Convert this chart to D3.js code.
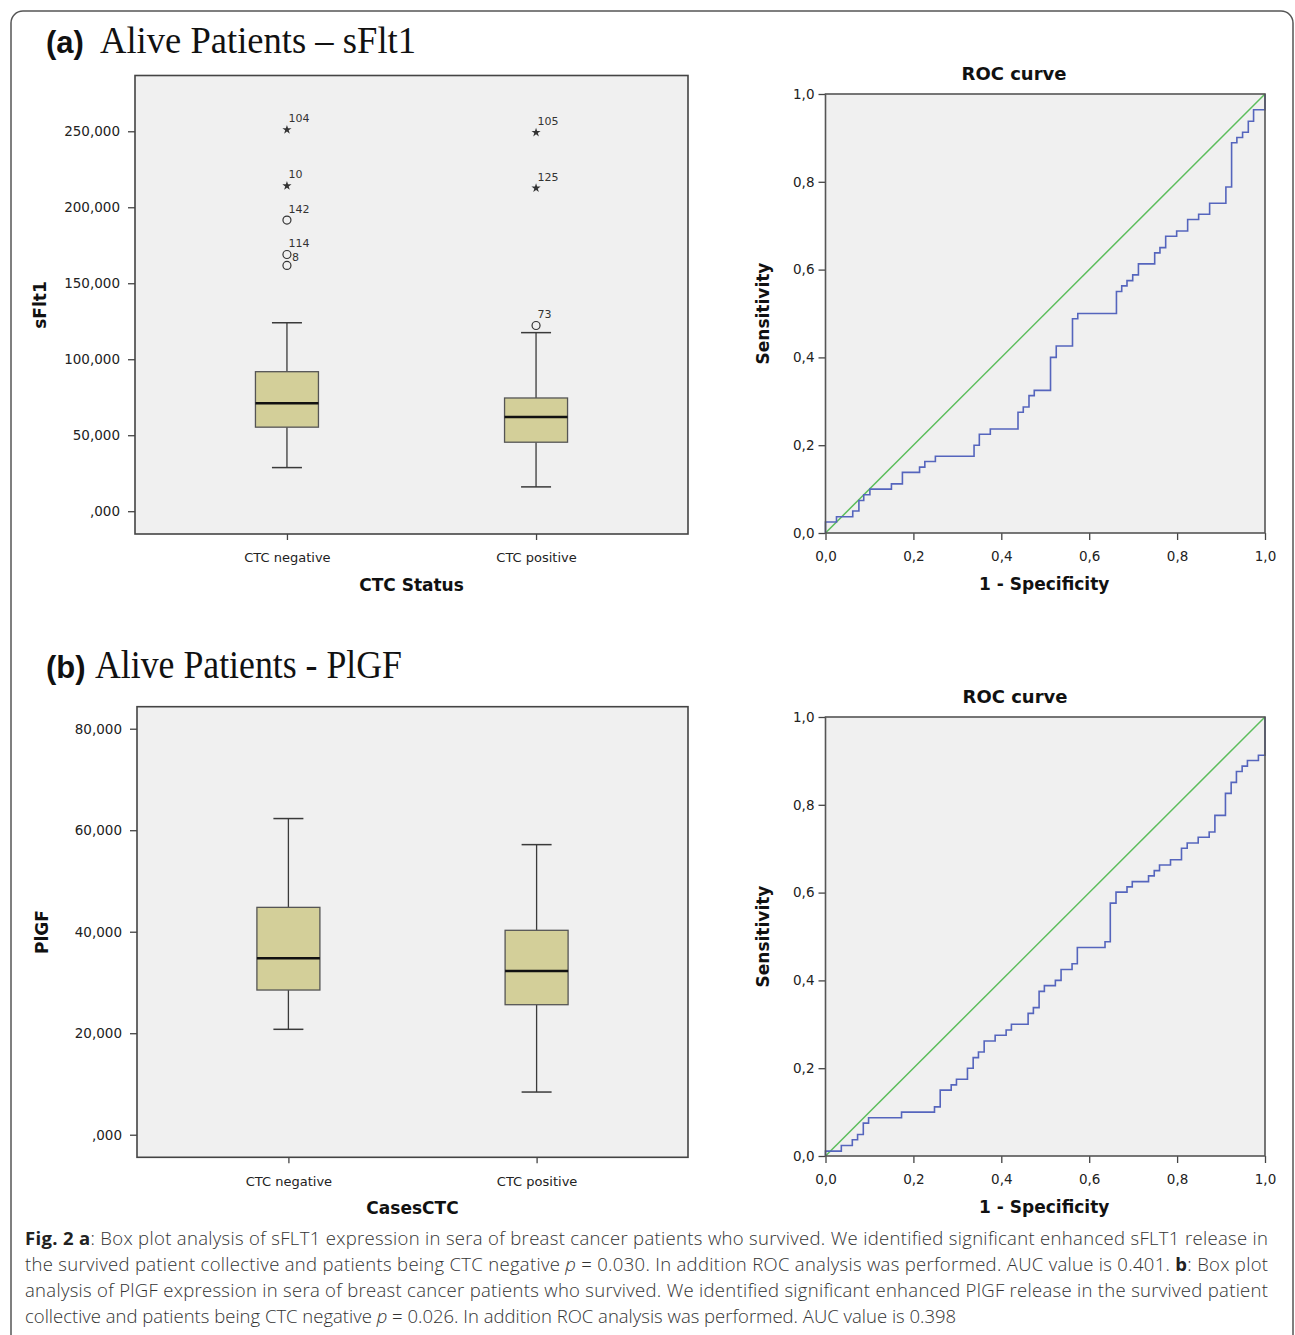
<!DOCTYPE html>
<html><head><meta charset="utf-8">
<script src="https://cdn.jsdelivr.net/npm/d3@7"></script>
<style>body{margin:0;background:#fff} svg{display:block}</style>
</head><body><svg id="chart" width="1295" height="1335"></svg>
<script>
// ---------------- DATA ----------------
const categories = ["CTC negative", "CTC positive"];

// (a) sFlt1 box plot (five-number summaries per category)
const sflt1Min    = [28700, 16000];
const sflt1Q1     = [55300, 45400];
const sflt1Median = [71000, 62000];
const sflt1Q3     = [91800, 74500];
const sflt1Max    = [124000, 117500];
const sflt1OutlierCategory = ["CTC negative","CTC negative","CTC negative","CTC negative","CTC negative","CTC positive","CTC positive","CTC positive"];
const sflt1OutlierValue    = [251000, 214100, 191600, 168900, 161700, 249200, 212600, 122200];
const sflt1OutlierId       = ["104", "10", "142", "114", "8", "105", "125", "73"];
const sflt1OutlierType     = ["extreme","extreme","outlier","outlier","outlier","extreme","extreme","outlier"];
const sflt1Ticks      = [0, 50000, 100000, 150000, 200000, 250000];
const sflt1TickLabels = [",000", "50,000", "100,000", "150,000", "200,000", "250,000"];
const sflt1Domain     = [-15000, 286700];

// (b) PlGF box plot
const plgfMin    = [20770, 8410];
const plgfQ1     = [28510, 25620];
const plgfMedian = [34760, 32260];
const plgfQ3     = [44800, 40280];
const plgfMax    = [62300, 57160];
const plgfTicks      = [0, 20000, 40000, 60000, 80000];
const plgfTickLabels = [",000", "20,000", "40,000", "60,000", "80,000"];
const plgfDomain     = [-4450, 84340];

// ROC curves (1 - specificity, sensitivity) corner points
const rocAFpr = [0, 0, 0.025, 0.062, 0.076, 0.087, 0.101, 0.150, 0.175, 0.214, 0.226, 0.250, 0.338, 0.350, 0.375, 0.438, 0.450, 0.463, 0.475, 0.512, 0.525, 0.562, 0.574, 0.662, 0.674, 0.686, 0.699, 0.712, 0.749, 0.761, 0.774, 0.799, 0.824, 0.849, 0.874, 0.911, 0.924, 0.936, 0.949, 0.962, 0.974, 1.0];
const rocATpr = [0, 0.025, 0.037, 0.050, 0.074, 0.087, 0.100, 0.112, 0.138, 0.150, 0.163, 0.175, 0.200, 0.225, 0.237, 0.275, 0.287, 0.313, 0.325, 0.400, 0.426, 0.488, 0.500, 0.550, 0.563, 0.575, 0.588, 0.613, 0.638, 0.650, 0.676, 0.688, 0.714, 0.726, 0.751, 0.788, 0.889, 0.901, 0.913, 0.938, 0.964, 1.0];
const rocBFpr = [0, 0, 0.036, 0.061, 0.073, 0.086, 0.098, 0.173, 0.248, 0.261, 0.286, 0.298, 0.323, 0.336, 0.348, 0.361, 0.386, 0.411, 0.423, 0.461, 0.473, 0.486, 0.498, 0.523, 0.536, 0.561, 0.573, 0.636, 0.648, 0.661, 0.686, 0.698, 0.735, 0.748, 0.760, 0.785, 0.810, 0.823, 0.848, 0.873, 0.886, 0.910, 0.923, 0.935, 0.948, 0.960, 0.985, 1.0];
const rocBTpr = [0, 0.011, 0.024, 0.037, 0.049, 0.075, 0.087, 0.100, 0.112, 0.150, 0.162, 0.175, 0.200, 0.224, 0.237, 0.262, 0.275, 0.287, 0.300, 0.325, 0.338, 0.375, 0.388, 0.400, 0.425, 0.438, 0.475, 0.488, 0.576, 0.601, 0.613, 0.625, 0.638, 0.650, 0.663, 0.675, 0.701, 0.713, 0.726, 0.738, 0.776, 0.826, 0.851, 0.876, 0.888, 0.901, 0.913, 1.0];
const rocTicks      = [0, 0.2, 0.4, 0.6, 0.8, 1.0];
const rocTickLabels = ["0,0", "0,2", "0,4", "0,6", "0,8", "1,0"];

// Text
const titleA = ["(a)", "Alive Patients \u2013 sFlt1"];
const titleB = ["(b)", "Alive Patients - PlGF"];
const captionLines = [
  [["Fig. 2 a", "b"], [": Box plot analysis of sFLT1 expression in sera of breast cancer patients who survived. We identified significant enhanced sFLT1 release in", "n"]],
  [["the survived patient collective and patients being CTC negative ", "n"], ["p", "i"], [" = 0.030. In addition ROC analysis was performed. AUC value is 0.401. ", "n"], ["b", "b"], [": Box plot", "n"]],
  [["analysis of PlGF expression in sera of breast cancer patients who survived. We identified significant enhanced PlGF release in the survived patient", "n"]],
  [["collective and patients being CTC negative ", "n"], ["p", "i"], [" = 0.026. In addition ROC analysis was performed. AUC value is 0.398", "n"]]
];

// ---------------- DRAWING ----------------
const svg = d3.select("#chart");
const SANS = "'DejaVu Sans', sans-serif";
const INK = "#3a3a3a";
const BG = "#f0f0f0";
const BOXFILL = "#d3cf99";

svg.append("rect").attr("x", 11).attr("y", 11).attr("width", 1282).attr("height", 1345)
  .attr("rx", 12).attr("fill", "none").attr("stroke", "#555").attr("stroke-width", 1.5);

function panelTitle(t, x, y, x2, len, fs) {
  svg.append("text").attr("x", x).attr("y", y).text(t[0])
    .attr("font-family", "'Liberation Sans', Arial, sans-serif").attr("font-weight", "bold")
    .attr("font-size", 31).attr("fill", "#111");
  svg.append("text").attr("x", x2).attr("y", y).text(t[1])
    .attr("font-family", "'Liberation Serif', serif").attr("font-size", fs)
    .attr("textLength", len).attr("lengthAdjust", "spacingAndGlyphs").attr("fill", "#111");
}
panelTitle(titleA, 46, 53, 100, 316, 37);
panelTitle(titleB, 46, 678, 95, 307, 41);

function boxPlot(o) {
  const g = svg.append("g");
  const x = d3.scalePoint().domain(categories).range([o.x0, o.x1]).padding(0.61);
  const y = d3.scaleLinear().domain(o.domain).range([o.y1, o.y0]);
  g.append("rect").attr("x", o.x0).attr("y", o.y0).attr("width", o.x1 - o.x0).attr("height", o.y1 - o.y0)
    .attr("fill", BG);
  // y axis
  const ya = g.append("g").attr("transform", `translate(${o.x0},0)`)
    .call(d3.axisLeft(y).tickValues(o.ticks).tickFormat((d, i) => o.tickLabels[i]).tickSize(7).tickSizeOuter(0).tickPadding(8));
  ya.select(".domain").remove();
  ya.selectAll("line").attr("stroke", "#444").attr("stroke-width", 1.3);
  ya.selectAll("text").attr("font-family", SANS).attr("font-size", 13.5).attr("fill", "#222");
  // x axis
  const xa = g.append("g").attr("transform", `translate(0,${o.y1})`)
    .call(d3.axisBottom(x).tickSize(6).tickSizeOuter(0).tickPadding(13));
  xa.select(".domain").remove();
  xa.selectAll("line").attr("stroke", "#444").attr("stroke-width", 1.3);
  xa.selectAll("text").attr("font-family", SANS).attr("font-size", 13).attr("fill", "#222");

  const bw = 63, cw = 30;
  categories.forEach((c, i) => {
    const cx = x(c);
    g.append("line").attr("x1", cx).attr("x2", cx).attr("y1", y(o.max[i])).attr("y2", y(o.q3[i]))
      .attr("stroke", INK).attr("stroke-width", 1.3);
    g.append("line").attr("x1", cx).attr("x2", cx).attr("y1", y(o.q1[i])).attr("y2", y(o.min[i]))
      .attr("stroke", INK).attr("stroke-width", 1.3);
    [o.max[i], o.min[i]].forEach(v => g.append("line").attr("x1", cx - cw / 2).attr("x2", cx + cw / 2)
      .attr("y1", y(v)).attr("y2", y(v)).attr("stroke", INK).attr("stroke-width", 1.5));
    g.append("rect").attr("x", cx - bw / 2).attr("y", y(o.q3[i])).attr("width", bw)
      .attr("height", y(o.q1[i]) - y(o.q3[i])).attr("fill", BOXFILL).attr("stroke", "#555").attr("stroke-width", 1.3);
    g.append("line").attr("x1", cx - bw / 2).attr("x2", cx + bw / 2).attr("y1", y(o.median[i])).attr("y2", y(o.median[i]))
      .attr("stroke", "#111").attr("stroke-width", 2.6);
  });
  if (o.outVal) {
    o.outVal.forEach((v, i) => {
      const cx = x(o.outCat[i]), cy = y(v);
      if (o.outType[i] === "extreme") {
        g.append("path").attr("d", d3.symbol(d3.symbolStar, 26)()).attr("transform", `translate(${cx},${cy})`)
          .attr("fill", "#333");
      } else {
        g.append("circle").attr("cx", cx).attr("cy", cy).attr("r", 4).attr("fill", "none")
          .attr("stroke", "#333").attr("stroke-width", 1.2);
      }
      // label placement: upper right, or right if crowded from above
      const crowded = o.outVal.some((w, j) => j !== i && o.outCat[j] === o.outCat[i] && y(w) < cy && cy - y(w) < 14);
      const lx = crowded ? cx + 5 : cx + 1.5, ly = crowded ? cy - 4 : cy - 7.5;
      g.append("text").attr("x", lx).attr("y", ly).text(o.outId[i])
        .attr("font-family", SANS).attr("font-size", 11).attr("fill", "#333");
    });
  }
  g.append("rect").attr("x", o.x0).attr("y", o.y0).attr("width", o.x1 - o.x0).attr("height", o.y1 - o.y0)
    .attr("fill", "none").attr("stroke", "#444").attr("stroke-width", 1.6);
  svg.append("text").attr("x", (o.x0 + o.x1) / 2).attr("y", o.y1 + 57).attr("text-anchor", "middle")
    .text(o.xTitle).attr("font-family", SANS).attr("font-weight", "bold").attr("font-size", 17).attr("fill", "#111");
  svg.append("text").attr("transform", `translate(${o.yTitleX},${o.yTitleY}) rotate(-90)`).attr("text-anchor", "middle")
    .text(o.yTitle).attr("font-family", SANS).attr("font-weight", "bold").attr("font-size", 17).attr("fill", "#111");
}

boxPlot({x0: 135, x1: 688, y0: 75.5, y1: 534, domain: sflt1Domain, ticks: sflt1Ticks, tickLabels: sflt1TickLabels,
  min: sflt1Min, q1: sflt1Q1, median: sflt1Median, q3: sflt1Q3, max: sflt1Max,
  outVal: sflt1OutlierValue, outCat: sflt1OutlierCategory, outId: sflt1OutlierId, outType: sflt1OutlierType,
  xTitle: "CTC Status", yTitle: "sFlt1", yTitleX: 46, yTitleY: 305});

boxPlot({x0: 137, x1: 688, y0: 706.7, y1: 1157.3, domain: plgfDomain, ticks: plgfTicks, tickLabels: plgfTickLabels,
  min: plgfMin, q1: plgfQ1, median: plgfMedian, q3: plgfQ3, max: plgfMax,
  xTitle: "CasesCTC", yTitle: "PlGF", yTitleX: 48, yTitleY: 932});

function roc(o) {
  const g = svg.append("g");
  const x = d3.scaleLinear().domain([0, 1]).range([o.x0, o.x1]);
  const y = d3.scaleLinear().domain([0, 1]).range([o.y1, o.y0]);
  g.append("rect").attr("x", o.x0).attr("y", o.y0).attr("width", o.x1 - o.x0).attr("height", o.y1 - o.y0).attr("fill", BG);
  const ya = g.append("g").attr("transform", `translate(${o.x0},0)`)
    .call(d3.axisLeft(y).tickValues(rocTicks).tickFormat((d, i) => rocTickLabels[i]).tickSize(7).tickSizeOuter(0).tickPadding(4));
  const xa = g.append("g").attr("transform", `translate(0,${o.y1})`)
    .call(d3.axisBottom(x).tickValues(rocTicks).tickFormat((d, i) => rocTickLabels[i]).tickSize(7).tickSizeOuter(0).tickPadding(11));
  [ya, xa].forEach(a => {
    a.select(".domain").remove();
    a.selectAll("line").attr("stroke", "#444").attr("stroke-width", 1.3);
    a.selectAll("text").attr("font-family", SANS).attr("font-size", 13.5).attr("fill", "#222");
  });
  const line = d3.line().x(d => x(d[0])).y(d => y(d[1]));
  g.append("path").attr("d", line([[0, 0], [1, 1]])).attr("fill", "none").attr("stroke", "#5cbd5c").attr("stroke-width", 1.5);
  const pts = o.fpr.map((f, i) => [f, o.tpr[i]]);
  g.append("path").attr("d", line.curve(d3.curveStepAfter)(pts)).attr("fill", "none")
    .attr("stroke", "#5565bd").attr("stroke-width", 1.6);
  g.append("rect").attr("x", o.x0).attr("y", o.y0).attr("width", o.x1 - o.x0).attr("height", o.y1 - o.y0)
    .attr("fill", "none").attr("stroke", "#555").attr("stroke-width", 1.6);
  svg.append("text").attr("x", o.titleX).attr("y", o.y0 - 14).attr("text-anchor", "middle").text("ROC curve")
    .attr("font-family", SANS).attr("font-weight", "bold").attr("font-size", 18).attr("fill", "#111");
  svg.append("text").attr("x", (o.x0 + o.x1) / 2 - 1).attr("y", o.y1 + 57).attr("text-anchor", "middle").text("1 - Specificity")
    .attr("font-family", SANS).attr("font-weight", "bold").attr("font-size", 17).attr("fill", "#111");
  svg.append("text").attr("transform", `translate(${o.x0 - 57},${(o.y0 + o.y1) / 2}) rotate(-90)`).attr("text-anchor", "middle")
    .text("Sensitivity").attr("font-family", SANS).attr("font-weight", "bold").attr("font-size", 17).attr("fill", "#111");
}
roc({x0: 825.5, x1: 1265, y0: 94, y1: 533, fpr: rocAFpr, tpr: rocATpr, titleX: 1014});
roc({x0: 825.5, x1: 1265, y0: 717, y1: 1156, fpr: rocBFpr, tpr: rocBTpr, titleX: 1015});

// caption
const capBase = [1245, 1271, 1297, 1323];
const capLen = [1243, 1243, 1243, null];
captionLines.forEach((parts, li) => {
  const t = svg.append("text").attr("x", 25).attr("y", capBase[li])
    .attr("font-family", "'Open Sans', sans-serif").attr("font-size", 18.5).attr("font-weight", 300).attr("fill", "#333");
  parts.forEach(p => {
    const ts = t.append("tspan").text(p[0]);
    if (p[1] === "b") ts.attr("font-weight", "bold").attr("fill", "#222");
    if (p[1] === "i") ts.attr("font-style", "italic");
  });
  if (capLen[li]) t.attr("textLength", capLen[li]).attr("lengthAdjust", "spacing");
});
</script></body></html>
